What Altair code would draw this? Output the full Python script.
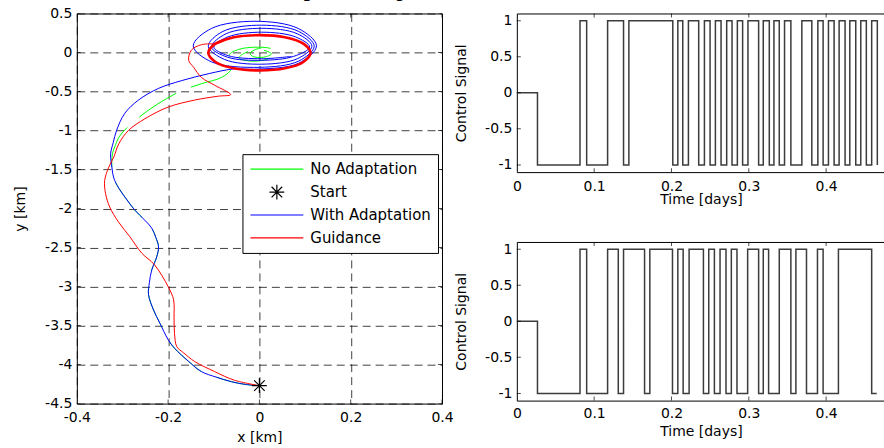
import altair as alt
import pandas as pd

# ---------------- trajectory data (km) ----------------
no_adapt_x = [0.0, -0.03, -0.061, -0.095, -0.127, -0.155, -0.186, -0.2, -0.218, -0.232,
              -0.243, -0.241, -0.236, -0.225, -0.221, -0.227, -0.236, -0.251, -0.273, -0.29,
              -0.308, -0.319, -0.323, -0.322, -0.317, -0.306, -0.284, -0.243, -0.203, -0.17,
              -0.127, -0.083, -0.062, -0.058, -0.066, -0.045, -0.005, 0.03, 0.037, 0.015,
              -0.02, -0.045, -0.033, -0.01, 0.015, 0.026, 0.01, -0.015, -0.02, -0.008,
              0.004, 0.003]
no_adapt_y = [-4.27, -4.255, -4.22, -4.16, -4.09, -3.96, -3.79, -3.68, -3.47, -3.3,
              -3.1, -2.95, -2.79, -2.62, -2.49, -2.37, -2.25, -2.15, -2.02, -1.89,
              -1.74, -1.61, -1.48, -1.3, -1.21, -1.07, -0.93, -0.74, -0.59, -0.49,
              -0.4, -0.32, -0.22, -0.12, -0.03, 0.04, 0.068, 0.04, -0.02, -0.09,
              -0.11, -0.07, -0.01, 0.03, 0.02, -0.02, -0.06, -0.05, -0.01, 0.04,
              0.05, 0.02]

adapt_x = [0.0, -0.03, -0.061, -0.095, -0.127, -0.155, -0.186, -0.2, -0.218, -0.232,
           -0.243, -0.241, -0.236, -0.225, -0.221, -0.227, -0.236, -0.251, -0.273, -0.29,
           -0.308, -0.319, -0.323, -0.326, -0.32, -0.313, -0.295, -0.265, -0.221, -0.17,
           -0.11, -0.055, -0.01, 0.085, 0.125, 0.085, -0.01, -0.105, -0.145, -0.105,
           0.0, 0.086, 0.12, 0.086, 0.005, -0.08, -0.112, -0.076, 0.005, 0.083,
           0.115, 0.083, 0.005, -0.073, -0.105, -0.07, 0.005, 0.075, 0.11, 0.079,
           0.005, -0.069, -0.1, -0.069, 0.005, 0.07]
adapt_y = [-4.27, -4.255, -4.22, -4.16, -4.09, -3.96, -3.79, -3.68, -3.47, -3.3,
           -3.1, -2.95, -2.79, -2.62, -2.49, -2.37, -2.25, -2.15, -2.02, -1.89,
           -1.74, -1.61, -1.48, -1.3, -1.15, -1.0, -0.78, -0.61, -0.46, -0.36,
           -0.27, -0.21, -0.215, -0.14, 0.085, 0.308, 0.4, 0.308, 0.085, -0.12,
           -0.19, -0.11, 0.08, 0.27, 0.35, 0.27, 0.08, -0.09, -0.15, -0.08,
           0.08, 0.24, 0.31, 0.24, 0.07, -0.06, -0.1, -0.05, 0.07, 0.2,
           0.26, 0.2, 0.07, -0.04, -0.08, -0.05]

guide_x = [0.0, -0.055, -0.098, -0.142, -0.166, -0.181, -0.186, -0.187, -0.188, -0.2,
           -0.23, -0.258, -0.284, -0.309, -0.328, -0.337, -0.339, -0.33, -0.319, -0.308,
           -0.287, -0.251, -0.2, -0.142, -0.09, -0.063, -0.098, -0.127, -0.144, -0.155,
           -0.149, -0.127, -0.097]
guide_y = [-4.27, -4.2, -4.09, -3.96, -3.85, -3.77, -3.6, -3.4, -3.17, -3.0,
           -2.72, -2.57, -2.36, -2.17, -1.98, -1.81, -1.64, -1.47, -1.34, -1.17,
           -1.0, -0.85, -0.7, -0.61, -0.56, -0.54, -0.42, -0.32, -0.19, -0.1,
           0.03, 0.1, 0.11]

# repeated guidance orbit around the target
orbit_x = [-0.097, -0.056, 0.0, 0.056, 0.097, 0.112, 0.097, 0.056, 0.0, -0.056,
           -0.097, -0.112, -0.097, -0.056]
orbit_y = [0.11, 0.195, 0.222, 0.195, 0.11, -0.004, -0.118, -0.203, -0.23, -0.203,
           -0.118, -0.004, 0.11, 0.195]

start_x = [0.0]
start_y = [-4.27]

series_names = ["No Adaptation", "Start", "With Adaptation", "Guidance"]
series_colors = ["#00ff00", "#000000", "#0000ff", "#ff0000"]
ASTERISK = "M0,-0.28L0,0.28M-0.28,0L0.28,0M-0.2,-0.2L0.2,0.2M-0.2,0.2L0.2,-0.2"
series_shapes = ["stroke", ASTERISK, "stroke", "stroke"]

traj_x_ticks = [-0.4, -0.2, 0, 0.2, 0.4]
traj_y_ticks = [0.5, 0, -0.5, -1, -1.5, -2, -2.5, -3, -3.5, -4, -4.5]

figure_title = ["Trajectory"]

# ---------------- control signals ----------------
sig1_t = [0, 0.0267, 0.0817, 0.0903, 0.1174, 0.138, 0.1449, 0.2017, 0.2082, 0.2146,
          0.2219, 0.2352, 0.2426, 0.2499, 0.2568, 0.2641, 0.2714, 0.2783, 0.2852, 0.292,
          0.2989, 0.3127, 0.3187, 0.3265, 0.3325, 0.3394, 0.3462, 0.3544, 0.3686, 0.3815,
          0.3893, 0.3961, 0.403, 0.4103, 0.4168, 0.4245, 0.4306, 0.4383, 0.4448, 0.452,
          0.4589, 0.4662]
sig1_u = [0, -1, 1, -1, 1, -1, 1, -1, 1, -1,
          1, -1, 1, -1, 1, -1, 1, -1, 1, -1,
          1, -1, 1, -1, 1, -1, 1, -1, 1, -1,
          1, -1, 1, -1, 1, -1, 1, -1, 1, -1,
          1, -1]

sig2_t = [0, 0.0267, 0.0817, 0.0903, 0.1174, 0.1312, 0.138, 0.1652, 0.172, 0.2013,
          0.2082, 0.2151, 0.2228, 0.2413, 0.2482, 0.2555, 0.2628, 0.2705, 0.2774, 0.2847,
          0.2985, 0.3127, 0.3187, 0.3256, 0.3394, 0.3544, 0.3609, 0.3746, 0.3888, 0.3961,
          0.4159, 0.4589, 0.4654]
sig2_u = [0, -1, 1, -1, 1, -1, 1, -1, 1, -1,
          1, -1, 1, -1, 1, -1, 1, -1, 1, -1,
          1, -1, 1, -1, 1, -1, 1, -1, 1, -1,
          1, -1, -1]

time_ticks = [0, 0.1, 0.2, 0.3, 0.4]
signal_ticks = [-1, -0.5, 0, 0.5, 1]

FONT = "DejaVu Sans"
HYPHEN = "replace(datum.label, '\u2212', '-')"


def path_frame(name, xs, ys):
    return pd.DataFrame({"series": name, "x": xs, "y": ys, "i": list(range(len(xs)))})


def inner_ticks(xfield, xvals, xenc, yfield, yvals, yenc, width, height, sides):
    """Short tick marks pointing into the plot (clipped half of a centred tick)."""
    layers = []
    xt = pd.DataFrame({xfield: xvals})
    yt = pd.DataFrame({yfield: yvals})
    for side, ypos in (("top", 0), ("bottom", height)):
        if side in sides:
            layers.append(alt.Chart(xt).mark_tick(orient="vertical", size=8, thickness=1,
                                                  color="black", clip=True).encode(
                x=xenc, y=alt.value(ypos)))
    for side, xpos in (("left", 0), ("right", width)):
        if side in sides:
            layers.append(alt.Chart(yt).mark_tick(orient="horizontal", size=8, thickness=1,
                                                  color="black", clip=True).encode(
                y=yenc, x=alt.value(xpos)))
    return layers


def axis(values, title, label_pad, title_pad, grid):
    return alt.Axis(values=values, title=title, grid=grid, format="~g", labelExpr=HYPHEN,
                    labelFlush=False, labelPadding=label_pad, titlePadding=title_pad)


color_scale = alt.Scale(domain=series_names, range=series_colors)
shape_scale = alt.Scale(domain=series_names, range=series_shapes)
legend = alt.Legend(orient="none", legendX=166, legendY=141, title=None,
                    fillColor="white", strokeColor="black", padding=7,
                    symbolSize=2809, symbolStrokeWidth=1.2, labelFont=FONT,
                    labelFontSize=15, labelColor="black", labelOffset=6,
                    rowPadding=7, clipHeight=16)

x_enc = alt.X("x:Q", scale=alt.Scale(domain=[-0.4, 0.4], nice=False, zero=False),
              axis=axis(traj_x_ticks, "x [km]", 7, 6, True))
y_enc = alt.Y("y:Q", scale=alt.Scale(domain=[-4.5, 0.5], nice=False, zero=False),
              axis=axis(traj_y_ticks, "y [km]", 5, 17, True))
color_enc = alt.Color("series:N", scale=color_scale, legend=legend)


def traj_line(df, **kw):
    return alt.Chart(df).mark_line(interpolate="catmull-rom", **kw).encode(
        x=x_enc, y=y_enc, color=color_enc, order="i:Q")


LW, LH = 366, 391
green = traj_line(path_frame("No Adaptation", no_adapt_x, no_adapt_y),
                  strokeWidth=1, strokeDash=[44, 16])
blue = traj_line(path_frame("With Adaptation", adapt_x, adapt_y), strokeWidth=1)
red = traj_line(path_frame("Guidance", guide_x, guide_y), strokeWidth=1)
orbit = traj_line(path_frame("Guidance", orbit_x, orbit_y), strokeWidth=2.6)
star = alt.Chart(pd.DataFrame({"series": "Start", "x": start_x, "y": start_y})).mark_point(
    filled=False, size=2809, strokeWidth=1.2, opacity=1).encode(
    x=x_enc, y=y_enc, color=color_enc,
    shape=alt.Shape("series:N", scale=shape_scale, legend=legend))

# figure heading, sitting mostly above the visible page
heading = alt.Chart(pd.DataFrame({"label": figure_title})).mark_text(
    font="Liberation Serif", fontSize=40, align="right", baseline="alphabetic",
    color="black").encode(text="label:N", x=alt.value(340), y=alt.value(-22))

left = alt.layer(
    green, blue, red, orbit, star, heading,
    *inner_ticks("x", traj_x_ticks, x_enc, "y", traj_y_ticks, y_enc, LW, LH,
                 ("top", "bottom", "left", "right"))
).properties(width=LW, height=LH)

RW, RH = 369, 159
T_MAX = 369 / 775


def control_panel(ts, us, label_pad, title_pad):
    xe = alt.X("t:Q", scale=alt.Scale(domain=[0, T_MAX], nice=False, zero=False),
               axis=axis(time_ticks, "Time [days]", label_pad, title_pad, False))
    ye = alt.Y("u:Q", scale=alt.Scale(domain=[-1.1, 1.1], nice=False, zero=False),
               axis=axis(signal_ticks, "Control Signal", 5, 16, False))
    line = alt.Chart(pd.DataFrame({"t": ts, "u": us})).mark_line(
        interpolate="step-after", color="#3c3c3c", strokeWidth=1.5).encode(x=xe, y=ye)
    ticks = inner_ticks("t", time_ticks[1:], xe, "u", signal_ticks, ye, RW, RH,
                        ("top", "bottom", "left"))
    return alt.layer(line, *ticks).properties(width=RW, height=RH)


right = alt.vconcat(control_panel(sig1_t, sig1_u, 7, -1),
                    control_panel(sig2_t, sig2_u, 6, 4), spacing=34)

chart = alt.HConcatChart(hconcat=[left, right], spacing=75, bounds="flush").properties(
    padding={"left": 13, "top": -42, "right": -2, "bottom": 3},
).configure_axis(
    labelFont=FONT, labelFontSize=14, labelColor="black",
    titleFont=FONT, titleFontSize=14, titleFontWeight="normal", titleColor="black",
    ticks=False, tickSize=0, domain=False,
    gridColor="black", gridOpacity=0.75, gridDash=[8, 5], gridWidth=1,
).configure_view(stroke="black", strokeWidth=1)

chart.save("out.html", embed_options={"renderer": "svg", "actions": False})
